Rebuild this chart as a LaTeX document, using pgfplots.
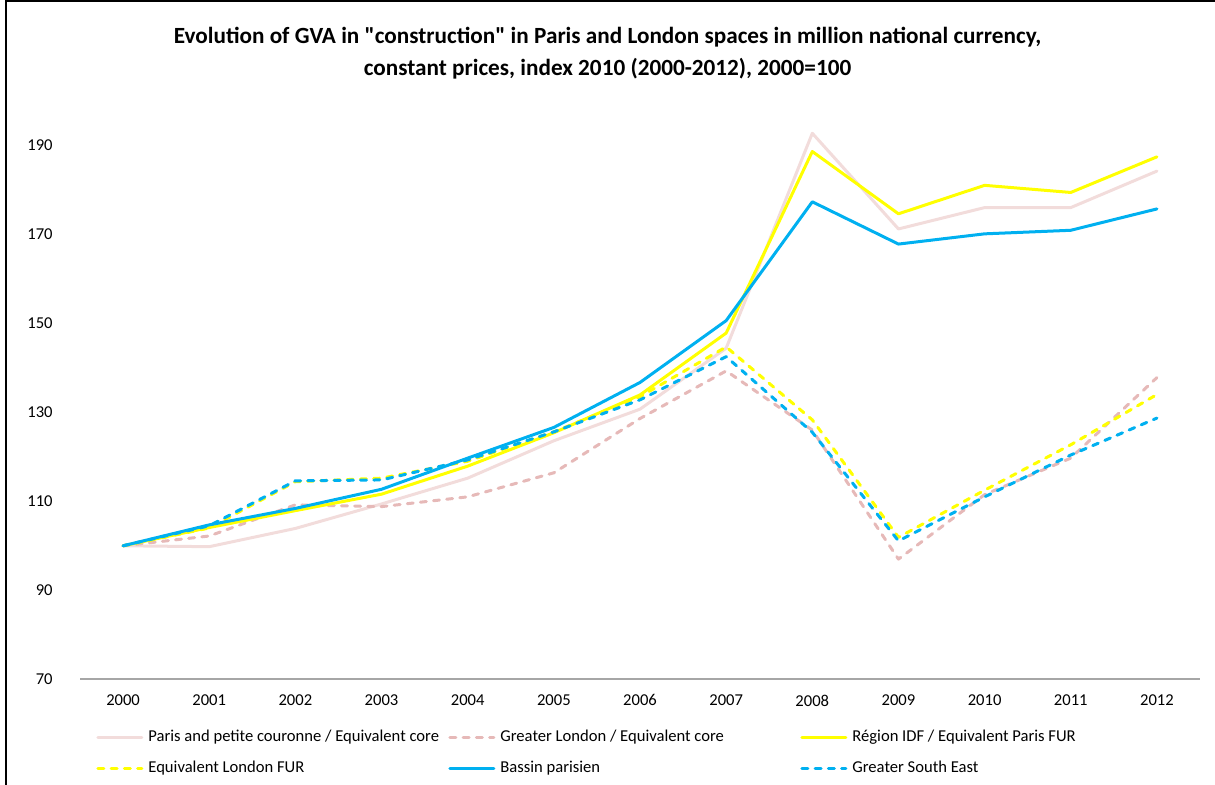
\documentclass[border=0pt]{standalone}
\usepackage{pgfplots}
\pgfplotsset{compat=1.18}
\usepackage{pgfplotstable}
\usepackage{fontspec}
\setmainfont{Carlito}[Ligatures=TeXOff]
\definecolor{pcore}{HTML}{F2DCDB}
\definecolor{glon}{HTML}{E6B9B8}
\definecolor{yel}{HTML}{FFFF00}
\definecolor{blu}{HTML}{00B0F0}
\definecolor{axgray}{HTML}{A6A6A6}
\pgfplotstableread{
year pcore glon idf lfur bp gse
2000 100.0 100.0 100.0 100.0 100.0 100.0
2001 99.8 102.2 104.1 104.0 104.7 104.5
2002 103.9 109.2 107.9 114.4 108.4 114.6
2003 109.4 108.8 111.6 115.2 112.7 114.8
2004 115.2 111.0 117.9 119.0 119.7 119.3
2005 123.6 116.4 125.4 125.6 126.6 125.6
2006 130.7 128.6 133.9 133.5 136.7 132.8
2007 144.4 139.3 147.8 144.7 150.6 142.5
2008 192.7 126.0 188.6 128.3 177.3 125.5
2009 171.2 97.0 174.6 101.9 167.8 101.1
2010 176.0 111.5 181.0 112.5 170.1 111.0
2011 176.0 119.7 179.4 122.7 170.9 120.4
2012 184.2 137.8 187.4 134.0 175.7 128.7
}\datatable
\newcommand{\lgbox}[1]{\makebox[152.5pt][l]{\hspace{2.5pt}#1}}
\begin{document}
\begin{tikzpicture}
\useasboundingbox (0,0) rectangle (607.5pt,392.5pt);
\draw[black, line width=1pt] (3.2pt,0pt) -- (3.2pt,391.9pt) -- (607.5pt,391.9pt);
\node[font=\bfseries\fontsize{11.6}{14}\selectfont, text height=8pt, text depth=2.4pt] at (303.75pt,373.5pt) {Evolution of GVA in "construction" in Paris and London spaces in million national currency,};
\node[font=\bfseries\fontsize{11.6}{14}\selectfont, text height=8pt, text depth=2.4pt] at (303.75pt,357.5pt) {constant prices, index 2010 (2000-2012), 2000=100};
\begin{axis}[
  at={(40pt,52.85pt)}, anchor=south west,
  scale only axis, width=560pt, height=289.25pt,
  xmin=1999.5, xmax=2012.5, ymin=70, ymax=200,
  xtick={2000,2001,...,2012}, ytick={70,90,...,190},
  /pgf/number format/1000 sep={},
  /pgf/number format/assume math mode=true,
  axis x line=bottom, axis y line=left,
  x axis line style={-, draw=axgray, line width=0.8pt},
  y axis line style={-, draw=none},
  major tick length=0pt, tick style={draw=none},
  ticklabel style={font=\fontsize{8.3}{10}\selectfont},
  yticklabel style={inner sep=0pt, anchor=east, xshift=-13.5pt},
  xticklabel style={inner sep=0pt, anchor=north, yshift=-7.5pt},
  legend columns=3,
  legend cell align=left,
  legend style={draw=none, fill=none, at={(0.0143,-0.0885)}, anchor=north west,
    inner sep=0pt, font=\fontsize{8.3}{10}\selectfont,
    /tikz/column sep=0pt, /tikz/row sep=8.5pt,
    nodes={inner sep=0pt, text height=5.5pt, text depth=1.5pt}},
  legend image code/.code={\draw[#1] (0pt,0pt) -- (22pt,0pt);},
  every axis plot/.append style={line width=1.5pt, line join=round, line cap=round},
]
\addplot[pcore] table[x=year,y=pcore]{\datatable};
\addlegendentry{\lgbox{Paris and petite couronne / Equivalent core}}
\addplot[glon, dash pattern=on 3pt off 3.6pt] table[x=year,y=glon]{\datatable};
\addlegendentry{\lgbox{Greater London / Equivalent core}}
\addplot[yel] table[x=year,y=idf]{\datatable};
\addlegendentry{\lgbox{Région IDF / Equivalent Paris FUR}}
\addplot[yel, dash pattern=on 3pt off 3.6pt] table[x=year,y=lfur]{\datatable};
\addlegendentry{\lgbox{Equivalent London FUR}}
\addplot[blu] table[x=year,y=bp]{\datatable};
\addlegendentry{\lgbox{Bassin parisien}}
\addplot[blu, dash pattern=on 3pt off 3.6pt] table[x=year,y=gse]{\datatable};
\addlegendentry{\lgbox{Greater South East}}
\end{axis}
\end{tikzpicture}
\end{document}
